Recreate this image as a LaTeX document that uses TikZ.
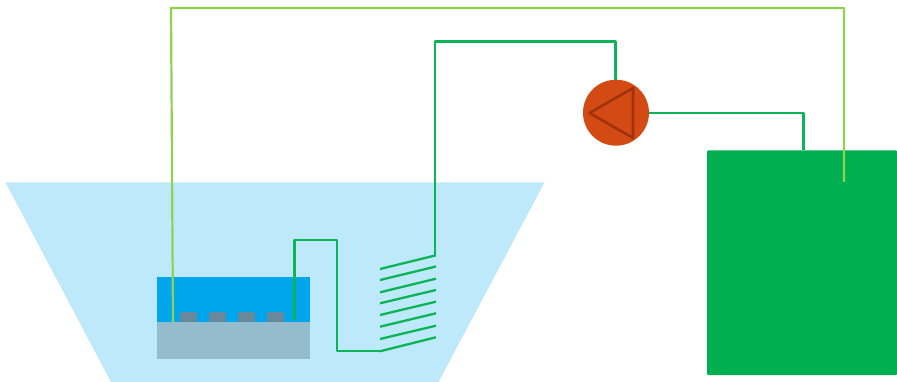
\documentclass[tikz,border=0pt]{standalone}
\definecolor{bath}{HTML}{BEE9FA}
\definecolor{liquid}{HTML}{00A6ED}
\definecolor{substrate}{HTML}{94BCCD}
\definecolor{pad}{HTML}{66899B}
\definecolor{supply}{HTML}{00B050}
\definecolor{wire}{HTML}{0BB557}
\definecolor{lime}{HTML}{92D050}
\definecolor{pumpc}{HTML}{D34A14}
\definecolor{pumpd}{HTML}{A1330C}
\tikzset{
  block/.style={inner sep=0pt,outer sep=0pt,minimum width=#1},
  wireline/.style={draw=wire,line width=2.3pt,line join=round},
  limeline/.style={draw=lime,line width=2.2pt,line join=round},
  padbox/.style={fill=pad,inner sep=0pt,outer sep=0pt,minimum width=17pt,minimum height=10.5pt,anchor=south}
}
\begin{document}
\begin{tikzpicture}[x=1pt,y=-1pt]
\useasboundingbox (0,0) rectangle (897,382);
% bath
\fill[bath] (5.5,182.5) -- (544.5,182.5) -- (438.5,382) -- (111,382) -- cycle;
% sample
\node[block=152.5pt,minimum height=45.5pt,fill=liquid,anchor=north west] (liq) at (157,276.5) {};
\node[block=152.5pt,minimum height=36.7pt,fill=substrate,anchor=north west] (sub) at (157,322) {};
\node[padbox] (p1) at (188,322) {};
\node[padbox] (p2) at (217,322) {};
\node[padbox] (p3) at (246.2,322) {};
\node[padbox] (p4) at (275.2,322) {};
% supply
\node[block=190pt,minimum height=224.5pt,fill=supply,rounded corners=1pt,anchor=north west] (tank) at (707,150.5) {};
% pump
\node[circle,fill=pumpc,minimum size=66pt,inner sep=0pt,outer sep=0pt] (pump) at (616,112.7) {};
\draw[draw=pumpd,line width=2.6pt,line join=round] (589.5,113) -- (633,88) -- (633,138) -- cycle;
% coil coordinates
\coordinate (c0l) at (380,269);   \coordinate (c0r) at (436,255.3);
\coordinate (c1l) at (380,280);   \coordinate (c1r) at (436,266.5);
\coordinate (c2l) at (380,292.3); \coordinate (c2r) at (436,278.7);
\coordinate (c3l) at (380,303.3); \coordinate (c3r) at (436,290);
\coordinate (c4l) at (380,315);   \coordinate (c4r) at (436,301.7);
\coordinate (c5l) at (380,326.7); \coordinate (c5r) at (436,313.3);
\coordinate (c6l) at (380,339);   \coordinate (c6r) at (436,325.7);
\coordinate (c7l) at (380,351.3); \coordinate (c7r) at (436,337.3);
\foreach \i in {0,...,7} \draw[wireline] (c\i l) -- (c\i r);
% wires
\coordinate (wstart) at (294.5,320);
\draw[wireline] (wstart) |- (337,239.7) |- (c7l);
\coordinate (ctop) at (435,255.3);
\draw[wireline] (ctop) -- (435,41.5) -- (615.5,41.5) -- (pump.north -| 615.5,0);
\draw[wireline] (pump.east) -- (803.5,112.7) -- (803.5,150.5);
% lime line
\coordinate (lend) at (844,182);
\coordinate (lstart) at (173,322);
\draw[limeline] (lend) -- (844,8) -- (171,8) -- (lstart);
\end{tikzpicture}
\end{document}
